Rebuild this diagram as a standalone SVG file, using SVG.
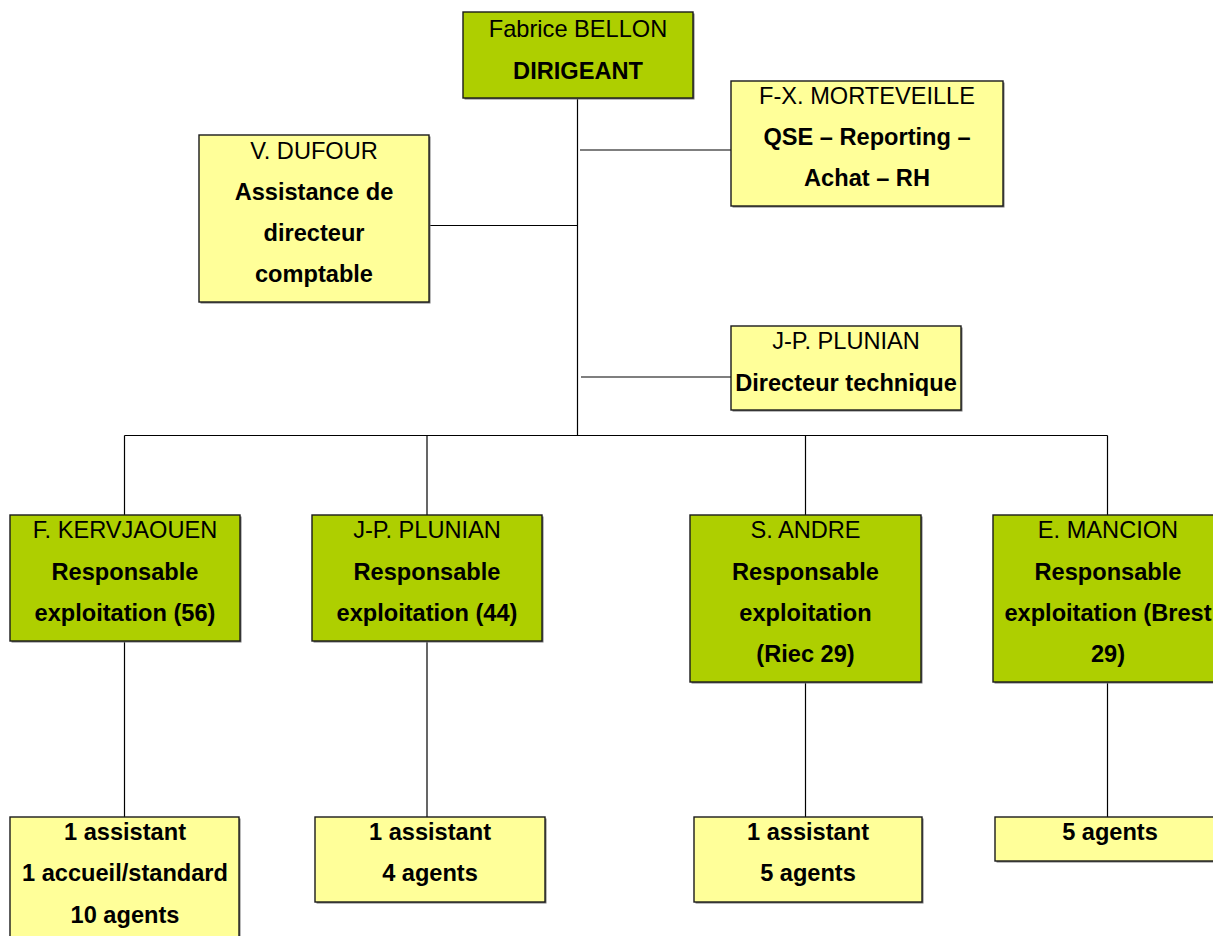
<svg xmlns="http://www.w3.org/2000/svg" width="1213" height="936" viewBox="0 0 1213 936">
<style>
.g{fill:#AECF00;stroke:#1a1a1a;stroke-width:1.4}
.y{fill:#FFFF99;stroke:#1a1a1a;stroke-width:1.4}
.sh{fill:#777}
text{font-family:"Liberation Sans",Arial,sans-serif;font-size:23.6px;fill:#000;text-anchor:middle}
.b{font-weight:bold}
.c line{stroke:#000;stroke-width:1.2}
</style>
<rect width="1213" height="936" fill="#fff"/>
<g class="c" id="connectors">
<line x1="577.5" y1="98" x2="577.5" y2="435.5"/>
<line x1="580" y1="150" x2="731" y2="150"/>
<line x1="429" y1="225.5" x2="577.5" y2="225.5"/>
<line x1="581" y1="377" x2="731" y2="377"/>
<line x1="124.5" y1="435.5" x2="1107.5" y2="435.5"/>
<line x1="124.5" y1="435.5" x2="124.5" y2="515"/>
<line x1="427" y1="435.5" x2="427" y2="515"/>
<line x1="805.5" y1="435.5" x2="805.5" y2="515"/>
<line x1="1107.5" y1="435.5" x2="1107.5" y2="515"/>
<line x1="124.5" y1="641" x2="124.5" y2="817"/>
<line x1="427" y1="641" x2="427" y2="817"/>
<line x1="805.5" y1="682" x2="805.5" y2="817"/>
<line x1="1107.5" y1="682" x2="1107.5" y2="817"/>
</g>
<g id="dirigeant">
<rect class="sh" x="464.5" y="13.5" width="230" height="86"/>
<rect class="g" x="463" y="12" width="230" height="86"/>
<text x="578" y="37">Fabrice BELLON</text>
<text class="b" x="578" y="79">DIRIGEANT</text>
</g>
<g id="morteveille">
<rect class="sh" x="732.5" y="82.5" width="272" height="125"/>
<rect class="y" x="731" y="81" width="272" height="125"/>
<text x="867" y="104">F-X. MORTEVEILLE</text>
<text class="b" x="867" y="145">QSE – Reporting –</text>
<text class="b" x="867" y="186">Achat – RH</text>
</g>
<g id="dufour">
<rect class="sh" x="200.5" y="136.5" width="230" height="167"/>
<rect class="y" x="199" y="135" width="230" height="167"/>
<text x="314" y="159">V. DUFOUR</text>
<text class="b" x="314" y="200">Assistance de</text>
<text class="b" x="314" y="241">directeur</text>
<text class="b" x="314" y="282">comptable</text>
</g>
<g id="plunian-tech">
<rect class="sh" x="732.5" y="327.5" width="230" height="84"/>
<rect class="y" x="731" y="326" width="230" height="84"/>
<text x="846" y="349">J-P. PLUNIAN</text>
<text class="b" x="846" y="391">Directeur technique</text>
</g>
<g id="kervjaouen">
<rect class="sh" x="11.5" y="516.5" width="230" height="126"/>
<rect class="g" x="10" y="515" width="230" height="126"/>
<text x="125" y="538">F. KERVJAOUEN</text>
<text class="b" x="125" y="580">Responsable</text>
<text class="b" x="125" y="621">exploitation (56)</text>
</g>
<g id="plunian-44">
<rect class="sh" x="313.5" y="516.5" width="230" height="126"/>
<rect class="g" x="312" y="515" width="230" height="126"/>
<text x="427" y="538">J-P. PLUNIAN</text>
<text class="b" x="427" y="580">Responsable</text>
<text class="b" x="427" y="621">exploitation (44)</text>
</g>
<g id="andre">
<rect class="sh" x="691.5" y="516.5" width="231" height="167"/>
<rect class="g" x="690" y="515" width="231" height="167"/>
<text x="805.5" y="538">S. ANDRE</text>
<text class="b" x="805.5" y="580">Responsable</text>
<text class="b" x="805.5" y="621">exploitation</text>
<text class="b" x="805.5" y="662">(Riec 29)</text>
</g>
<g id="mancion">
<rect class="sh" x="994.5" y="516.5" width="230" height="167"/>
<rect class="g" x="993" y="515" width="230" height="167"/>
<text x="1108" y="538">E. MANCION</text>
<text class="b" x="1108" y="580">Responsable</text>
<text class="b" x="1108" y="621">exploitation (Brest</text>
<text class="b" x="1108" y="662">29)</text>
</g>
<g id="equipe-56">
<rect class="sh" x="11.5" y="818.5" width="229" height="130"/>
<rect class="y" x="10" y="817" width="229" height="130"/>
<text class="b" x="125" y="840">1 assistant</text>
<text class="b" x="125" y="881">1 accueil/standard</text>
<text class="b" x="125" y="923">10 agents</text>
</g>
<g id="equipe-44">
<rect class="sh" x="316.5" y="818.5" width="230" height="85"/>
<rect class="y" x="315" y="817" width="230" height="85"/>
<text class="b" x="430" y="840">1 assistant</text>
<text class="b" x="430" y="881">4 agents</text>
</g>
<g id="equipe-riec">
<rect class="sh" x="695.5" y="818.5" width="228" height="85"/>
<rect class="y" x="694" y="817" width="228" height="85"/>
<text class="b" x="808" y="840">1 assistant</text>
<text class="b" x="808" y="881">5 agents</text>
</g>
<g id="equipe-brest">
<rect class="sh" x="996.5" y="818.5" width="230" height="44"/>
<rect class="y" x="995" y="817" width="230" height="44"/>
<text class="b" x="1110" y="840">5 agents</text>
</g>
</svg>
